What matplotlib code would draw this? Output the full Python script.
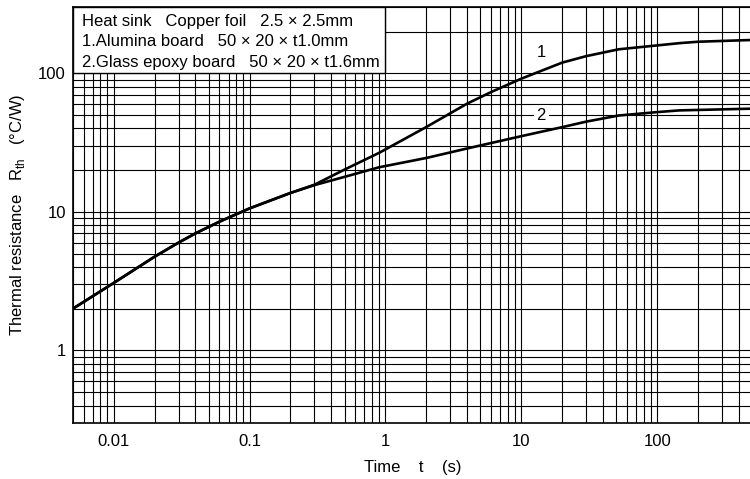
import numpy as np
import matplotlib
matplotlib.use("Agg")
import matplotlib.pyplot as plt
from matplotlib.patches import Rectangle

plt.rcParams['font.family'] = ['Liberation Sans', 'DejaVu Sans']

# values (t in s, Rth in degC/W)
t1 = [0.005, 0.01, 0.02, 0.03, 0.04, 0.06, 0.1, 0.2, 0.3, 0.5, 0.9, 2, 3, 4, 6, 10, 20, 30, 52, 100, 145, 200, 500]
r1 = [2.0, 3.07, 4.75, 6.0, 7.0, 8.5, 10.6, 13.7, 15.7, 20.2, 26.7, 41.0, 51.5, 60.5, 73.3, 91.5, 119.5, 133, 149, 159, 165, 169, 174]
t2 = [0.005, 0.01, 0.02, 0.03, 0.04, 0.06, 0.1, 0.2, 0.3, 0.5, 0.9, 2, 4, 10, 20, 30, 52, 100, 145, 500]
r2 = [2.0, 3.07, 4.75, 6.0, 7.0, 8.5, 10.6, 13.7, 15.6, 17.9, 21.0, 24.5, 28.7, 35.2, 40.9, 44.8, 49.6, 52.5, 54, 55.6]

xticks = [0.01, 0.1, 1, 10, 100]
xticklabels = ['0.01', '0.1', '1', '10', '100']
yticks = [1, 10, 100]
yticklabels = ['1', '10', '100']

box_lines = ['Heat sink   Copper foil   2.5 \u00d7 2.5mm',
             '1.Alumina board   50 \u00d7 20 \u00d7 t1.0mm',
             '2.Glass epoxy board   50 \u00d7 20 \u00d7 t1.6mm']

fig = plt.figure(figsize=(7.5, 4.79), dpi=100)
ax = fig.add_axes([0.097, 0.117, 0.906, 0.868])
ax.set_xscale('log')
ax.set_yscale('log')
ax.set_xlim(0.005, 500)
ax.set_ylim(0.3, 300)

ax.grid(True, which='both', color='black', lw=0.8)
ax.set_axisbelow(True)
ax.set_xticks(xticks)
ax.set_xticklabels(xticklabels)
ax.set_yticks(yticks)
ax.set_yticklabels(yticklabels)
ax.tick_params(which='both', length=0, labelsize=12)
ax.tick_params(axis='x', pad=8)
ax.tick_params(axis='y', pad=5)
for s in ax.spines.values():
    s.set_linewidth(1.2)

ax.plot(t1, r1, color='black', lw=1.9, zorder=3)
ax.plot(t2, r2, color='black', lw=1.9, zorder=3)

ax.add_patch(Rectangle((0.005, 100), 1 - 0.005, 200, facecolor='white',
                       edgecolor='black', lw=1.0, zorder=2, clip_on=False))
for i, line in enumerate(box_lines):
    ax.text(0.0137, [0.965, 0.917, 0.868][i], line, transform=ax.transAxes,
            fontsize=12, va='center', ha='left', zorder=4)

ax.text(14, 142, '1', fontsize=12, ha='center', va='center', zorder=4)
ax.text(14, 49.7, '2', fontsize=12, ha='center', va='center', zorder=4,
        bbox=dict(facecolor='white', edgecolor='none', pad=2))

ax.set_xlabel('Time    t    (s)', fontsize=12, labelpad=8)
ax.set_ylabel('Thermal resistance   R$_\\mathregular{th}$   (\u00b0C/W)', fontsize=12, labelpad=8)

fig.savefig('out.png', dpi=100)
